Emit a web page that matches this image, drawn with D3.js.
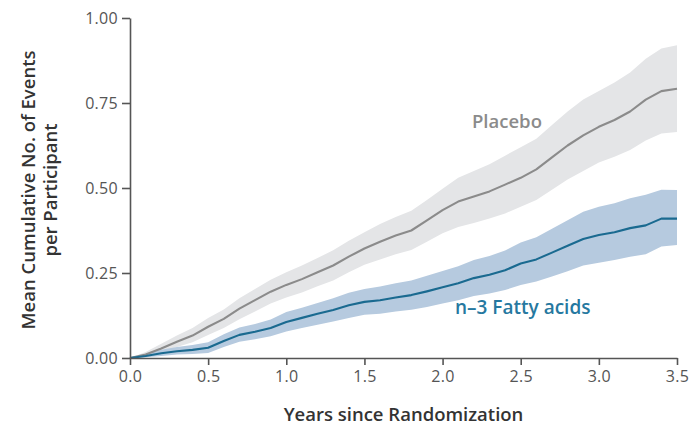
<!DOCTYPE html>
<html>
<head>
<meta charset="utf-8">
<script src="https://cdn.jsdelivr.net/npm/d3@7"></script>
<style>
  body { margin: 0; background: #fff; }
  svg { display: block; }
</style>
</head>
<body>
<svg id="chart" width="691" height="432"></svg>
<script>
// years since randomization (sampling grid)
const years = [0.0,0.1,0.2,0.3,0.4,0.5,0.6,0.7,0.8,0.9,1.0,1.1,1.2,1.3,1.4,1.5,1.6,1.7,1.8,1.9,
               2.0,2.1,2.2,2.3,2.4,2.5,2.6,2.7,2.8,2.9,3.0,3.1,3.2,3.3,3.4,3.5];

// placebo: mean cumulative events + 95% band
const placebo = [0,0.01,0.028,0.048,0.066,0.092,0.115,0.145,0.17,0.195,0.215,0.232,0.252,0.272,0.298,0.322,0.342,0.36,0.375,0.405,
                 0.435,0.46,0.475,0.49,0.51,0.53,0.555,0.59,0.625,0.655,0.68,0.7,0.725,0.76,0.785,0.792];
const placeboLo = [0,0.004,0.016,0.032,0.046,0.068,0.088,0.114,0.137,0.16,0.178,0.193,0.211,0.228,0.252,0.274,0.29,0.305,0.318,0.342,
                   0.367,0.385,0.397,0.41,0.425,0.445,0.465,0.495,0.525,0.55,0.575,0.592,0.612,0.64,0.66,0.665];
const placeboHi = [0,0.018,0.042,0.066,0.088,0.118,0.143,0.176,0.203,0.23,0.252,0.272,0.294,0.317,0.345,0.37,0.394,0.415,0.433,0.465,
                   0.498,0.53,0.55,0.57,0.595,0.62,0.645,0.685,0.725,0.76,0.785,0.81,0.84,0.88,0.91,0.92];

// n-3 fatty acids
const fatty = [0,0.006,0.014,0.02,0.024,0.03,0.05,0.068,0.077,0.088,0.106,0.118,0.13,0.141,0.155,0.165,0.17,0.178,0.185,0.196,
               0.208,0.22,0.235,0.245,0.258,0.278,0.29,0.31,0.33,0.35,0.362,0.37,0.382,0.39,0.41,0.41];
const fattyLo = [0,0.002,0.006,0.01,0.012,0.015,0.032,0.048,0.055,0.064,0.078,0.088,0.098,0.107,0.118,0.127,0.13,0.137,0.142,0.15,
                 0.16,0.17,0.182,0.19,0.2,0.215,0.225,0.24,0.255,0.272,0.28,0.288,0.298,0.305,0.328,0.332];
const fattyHi = [0,0.012,0.024,0.032,0.038,0.046,0.07,0.09,0.1,0.113,0.135,0.148,0.162,0.176,0.192,0.203,0.21,0.22,0.228,0.242,
                 0.256,0.27,0.288,0.3,0.316,0.34,0.355,0.38,0.405,0.43,0.445,0.455,0.47,0.48,0.495,0.494];

const xTicks = [0,0.5,1,1.5,2,2.5,3,3.5];
const yTicks = [0,0.25,0.5,0.75,1];

const W = 691, H = 432;
const margin = {top: 18, right: 14, bottom: 74, left: 130};

const svg = d3.select("#chart");
const x = d3.scaleLinear().domain([0, 3.5]).range([margin.left, W - margin.right]);
const y = d3.scaleLinear().domain([0, 1]).range([H - margin.bottom, margin.top]);

const rows = (mid, lo, hi) => years.map((t, i) => ({t, v: mid[i], lo: lo[i], hi: hi[i]}));
const series = [
    {name: "placebo", data: rows(placebo, placeboLo, placeboHi), band: "#e4e5e7", line: "#8b8b8b"},
    {name: "fatty", data: rows(fatty, fattyLo, fattyHi), band: "#b6cadf", line: "#1a6a90"}
];

const area = d3.area().x(d => x(d.t)).y0(d => y(d.lo)).y1(d => y(d.hi));
const line = d3.line().x(d => x(d.t)).y(d => y(d.v));

svg.selectAll(".band").data(series).enter().append("path")
    .attr("class", "band")
    .attr("d", d => area(d.data))
    .attr("fill", d => d.band);

svg.selectAll(".mean").data(series).enter().append("path")
    .attr("class", "mean")
    .attr("d", d => line(d.data))
    .attr("fill", "none")
    .attr("stroke", d => d.line)
    .attr("stroke-width", 2.1)
    .attr("stroke-linejoin", "round");

// axes
const tickFont = "'Open Sans', sans-serif";
const xAxis = svg.append("g")
    .attr("transform", `translate(0,${y(0)})`)
    .call(d3.axisBottom(x).tickValues(xTicks).tickFormat(d3.format(".1f")).tickSize(7).tickPadding(6).tickSizeOuter(0));
const yAxis = svg.append("g")
    .attr("transform", `translate(${x(0)},0)`)
    .call(d3.axisLeft(y).tickValues(yTicks).tickFormat(d3.format(".2f")).tickSize(8).tickPadding(4).tickSizeOuter(0));

[xAxis, yAxis].forEach(g => {
    g.select(".domain").attr("stroke", "#555").attr("stroke-width", 1.6);
    g.selectAll(".tick line").attr("stroke", "#555").attr("stroke-width", 1.6);
    g.selectAll(".tick text")
        .attr("fill", "#555")
        .style("font-family", tickFont)
        .style("font-size", "16px")
        .style("letter-spacing", "0.3px");
});

// labels
const labelFont = "'Open Sans', sans-serif";
svg.append("text")
    .attr("x", (x(0) + x(3.5)) / 2)
    .attr("y", 421)
    .attr("text-anchor", "middle")
    .style("font-family", labelFont).style("font-weight", 600).style("font-size", "18.5px")
    .attr("fill", "#333")
    .text("Years since Randomization");

const yl = svg.append("text")
    .attr("transform", `translate(0,${(y(0) + y(1)) / 2 + 2}) rotate(-90)`)
    .attr("text-anchor", "middle")
    .style("font-family", labelFont).style("font-weight", 600).style("font-size", "18.5px")
    .attr("fill", "#333");
yl.append("tspan").attr("x", 0).attr("y", 35).text("Mean Cumulative No. of Events");
yl.append("tspan").attr("x", 0).attr("y", 57).text("per Participant");

svg.append("text")
    .attr("x", 472).attr("y", 128)
    .style("font-family", labelFont).style("font-weight", 600).style("font-size", "18.5px")
    .attr("fill", "#8b8b8b")
    .text("Placebo");

svg.append("text")
    .attr("x", 455).attr("y", 314)
    .style("font-family", labelFont).style("font-weight", 600).style("font-size", "19px")
    .attr("fill", "#2678a0")
    .text("n–3 Fatty acids");
</script>
</body>
</html>
